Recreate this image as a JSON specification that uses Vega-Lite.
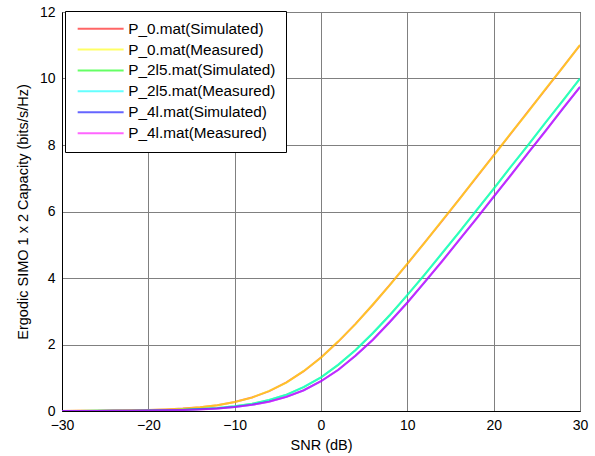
{
  "$schema": "https://vega.github.io/schema/vega-lite/v6.json",
  "width": 518,
  "height": 399,
  "autosize": {"type": "none"},
  "padding": {"left": 62, "top": 12, "right": 15, "bottom": 45},
  "background": "white",
  "config": {
    "font": "Liberation Sans",
    "view": {"stroke": "black", "strokeWidth": 1},
    "axis": {
      "labelFont": "Liberation Sans",
      "labelFontSize": 14,
      "labelColor": "black",
      "labelFlush": false,
      "labelOverlap": false,
      "titleFont": "Liberation Sans",
      "titleFontSize": 14.5,
      "titleFontWeight": "normal",
      "titleColor": "black",
      "domainColor": "black",
      "tickColor": "black",
      "tickSize": 0,
      "labelPadding": 7,
      "gridColor": "#808080",
      "gridOpacity": 1,
      "gridWidth": 1
    }
  },
  "data": {
    "values": [
      {"snr": -30, "A": 0.003, "B": 0.003, "C": 0.001, "D": 0.001, "E": 0.001, "F": 0.001},
      {"snr": -28, "A": 0.005, "B": 0.005, "C": 0.002, "D": 0.002, "E": 0.002, "F": 0.002},
      {"snr": -26, "A": 0.007, "B": 0.008, "C": 0.004, "D": 0.004, "E": 0.003, "F": 0.003},
      {"snr": -24, "A": 0.012, "B": 0.012, "C": 0.006, "D": 0.006, "E": 0.005, "F": 0.005},
      {"snr": -22, "A": 0.019, "B": 0.018, "C": 0.009, "D": 0.010, "E": 0.008, "F": 0.008},
      {"snr": -20, "A": 0.029, "B": 0.030, "C": 0.015, "D": 0.014, "E": 0.012, "F": 0.013},
      {"snr": -18, "A": 0.046, "B": 0.047, "C": 0.023, "D": 0.024, "E": 0.020, "F": 0.019},
      {"snr": -16, "A": 0.073, "B": 0.071, "C": 0.037, "D": 0.036, "E": 0.031, "F": 0.032},
      {"snr": -14, "A": 0.113, "B": 0.115, "C": 0.057, "D": 0.059, "E": 0.049, "F": 0.048},
      {"snr": -12, "A": 0.176, "B": 0.174, "C": 0.090, "D": 0.088, "E": 0.076, "F": 0.078},
      {"snr": -10, "A": 0.269, "B": 0.272, "C": 0.140, "D": 0.143, "E": 0.119, "F": 0.117},
      {"snr": -8, "A": 0.406, "B": 0.403, "C": 0.216, "D": 0.213, "E": 0.184, "F": 0.187},
      {"snr": -6, "A": 0.599, "B": 0.604, "C": 0.329, "D": 0.334, "E": 0.282, "F": 0.279},
      {"snr": -4, "A": 0.861, "B": 0.856, "C": 0.492, "D": 0.487, "E": 0.425, "F": 0.430},
      {"snr": -2, "A": 1.198, "B": 1.205, "C": 0.717, "D": 0.724, "E": 0.625, "F": 0.620},
      {"snr": 0, "A": 1.609, "B": 1.603, "C": 1.014, "D": 1.008, "E": 0.895, "F": 0.901},
      {"snr": 2, "A": 2.087, "B": 2.095, "C": 1.388, "D": 1.396, "E": 1.241, "F": 1.234},
      {"snr": 4, "A": 2.621, "B": 2.612, "C": 1.833, "D": 1.825, "E": 1.660, "F": 1.668},
      {"snr": 6, "A": 3.195, "B": 3.204, "C": 2.339, "D": 2.348, "E": 2.145, "F": 2.137},
      {"snr": 8, "A": 3.801, "B": 3.792, "C": 2.895, "D": 2.886, "E": 2.684, "F": 2.693},
      {"snr": 10, "A": 4.426, "B": 4.436, "C": 3.485, "D": 3.495, "E": 3.263, "F": 3.254},
      {"snr": 12, "A": 5.066, "B": 5.055, "C": 4.102, "D": 4.092, "E": 3.871, "F": 3.881},
      {"snr": 14, "A": 5.714, "B": 5.726, "C": 4.735, "D": 4.746, "E": 4.498, "F": 4.488},
      {"snr": 16, "A": 6.368, "B": 6.357, "C": 5.379, "D": 5.368, "E": 5.139, "F": 5.150},
      {"snr": 18, "A": 7.027, "B": 7.040, "C": 6.030, "D": 6.042, "E": 5.788, "F": 5.777},
      {"snr": 20, "A": 7.686, "B": 7.674, "C": 6.687, "D": 6.676, "E": 6.443, "F": 6.455},
      {"snr": 22, "A": 8.348, "B": 8.361, "C": 7.346, "D": 7.358, "E": 7.101, "F": 7.090},
      {"snr": 24, "A": 9.011, "B": 8.998, "C": 8.007, "D": 7.995, "E": 7.761, "F": 7.773},
      {"snr": 26, "A": 9.674, "B": 9.688, "C": 8.669, "D": 8.682, "E": 8.424, "F": 8.413},
      {"snr": 28, "A": 10.338, "B": 10.325, "C": 9.332, "D": 9.320, "E": 9.087, "F": 9.099},
      {"snr": 30, "A": 11.002, "B": 11.010, "C": 9.996, "D": 10.005, "E": 9.750, "F": 9.740}
    ]
  },
  "transform": [
    {"fold": ["A", "B", "C", "D", "E", "F"], "as": ["series", "cap"]}
  ],
  "mark": {"type": "line", "strokeWidth": 2, "opacity": 0.6, "clip": true},
  "encoding": {
    "x": {
      "field": "snr",
      "type": "quantitative",
      "scale": {"domain": [-30, 30], "nice": false, "zero": false},
      "axis": {"values": [-30, -20, -10, 0, 10, 20, 30], "title": "SNR (dB)", "titlePadding": 6, "grid": true}
    },
    "y": {
      "field": "cap",
      "type": "quantitative",
      "scale": {"domain": [0, 12], "nice": false},
      "axis": {"values": [0, 2, 4, 6, 8, 10, 12], "title": "Ergodic SIMO 1 x 2 Capacity (bits/s/Hz)", "titlePadding": 9, "grid": true}
    },
    "color": {
      "field": "series",
      "type": "nominal",
      "scale": {
        "domain": ["A", "B", "C", "D", "E", "F"],
        "range": ["#ff0000", "#ffff00", "#00ff00", "#00ffff", "#0000ff", "#ff00ff"]
      },
      "legend": {
        "title": null,
        "orient": "none",
        "legendX": 3,
        "legendY": -1,
        "symbolType": "M-4,0H4",
        "symbolSize": 132,
        "symbolStrokeWidth": 2,
        "symbolOffset": 18,
        "labelFontSize": 15.3,
        "labelFont": "Liberation Sans",
        "labelColor": "black",
        "labelOffset": 20,
        "padding": 10,
        "rowPadding": 4.9,
        "strokeColor": "black",
        "fillColor": "white",
        "labelExpr": "{'A':'P_0.mat(Simulated)','B':'P_0.mat(Measured)','C':'P_2l5.mat(Simulated)','D':'P_2l5.mat(Measured)','E':'P_4l.mat(Simulated)','F':'P_4l.mat(Measured)'}[datum.label]"
      }
    },
    "order": {"field": "series"}
  }
}
